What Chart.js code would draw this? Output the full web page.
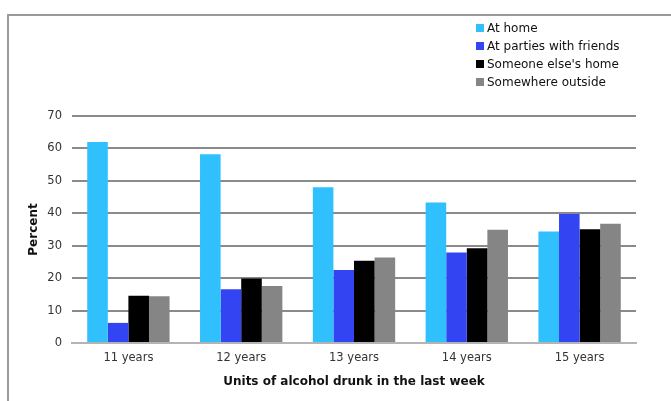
<!DOCTYPE html>
<html>
<head>
<meta charset="utf-8">
<script src="https://cdn.jsdelivr.net/npm/chart.js@4.4.1/dist/chart.umd.min.js"></script>
<style>
  html, body { margin: 0; padding: 0; background: #fff; }
  #wrap { position: relative; width: 671px; height: 401px; overflow: hidden; }
  #frame {
    position: absolute; left: 7px; top: 14px; width: 700px; height: 420px;
    border-left: 2px solid #9a9a9a; border-top: 2px solid #9a9a9a;
  }
  #legend {
    position: absolute; left: 476px; top: 19px;
    font-family: 'DejaVu Sans', sans-serif; font-size: 12px; color: #111;
  }
  #legend .item { height: 18px; line-height: 18px; white-space: nowrap; }
  #legend .box { display: inline-block; width: 8px; height: 8px; margin-right: 3px; }
  canvas { position: absolute; left: 0; top: 0; }
</style>
</head>
<body>
<div id="wrap">
  <div id="frame"></div>
  <canvas id="chart" width="671" height="401"></canvas>
  <div id="legend"></div>
</div>
<script>
// ---- data ----
const categories = ['11 years', '12 years', '13 years', '14 years', '15 years'];
const seriesNames = ['At home', 'At parties with friends', "Someone else's home", 'Somewhere outside'];
const atHome = [62, 58.2, 48, 43.3, 34.4];
const atParties = [6.2, 16.6, 22.5, 27.9, 39.8];
const someoneElses = [14.6, 19.9, 25.4, 29.2, 35.1];
const somewhereOutside = [14.4, 17.6, 26.4, 34.9, 36.8];
const yTicks = [0, 10, 20, 30, 40, 50, 60, 70];

const colors = ['#30c0fd', '#3344f2', '#000000', '#858585'];
const values = [atHome, atParties, someoneElses, somewhereOutside];

const FONT = "'DejaVu Sans', sans-serif";

// HTML legend, stacked vertically in the top-right corner
const legendEl = document.getElementById('legend');
seriesNames.forEach((name, i) => {
  const row = document.createElement('div');
  row.className = 'item';
  const box = document.createElement('span');
  box.className = 'box';
  box.style.background = colors[i];
  row.appendChild(box);
  row.appendChild(document.createTextNode(name));
  legendEl.appendChild(row);
});

new Chart(document.getElementById('chart'), {
  type: 'bar',
  data: {
    labels: categories,
    datasets: seriesNames.map((name, i) => ({
      label: name,
      data: values[i],
      backgroundColor: colors[i],
      borderWidth: 0,
      categoryPercentage: 0.73,
      barPercentage: 1.0,
    }))
  },
  options: {
    responsive: false,
    animation: false,
    devicePixelRatio: 1,
    layout: { padding: { left: 0, right: 35, top: 116, bottom: 0 } },
    plugins: {
      legend: { display: false },
      tooltip: { enabled: false }
    },
    scales: {
      x: {
        grid: { display: false, drawTicks: false },
        border: { display: true, color: '#b4b4b4', width: 2 },
        ticks: { color: '#333', font: { family: FONT, size: 11.5 }, padding: 8 },
        title: {
          display: true,
          text: 'Units of alcohol drunk in the last week',
          color: '#111',
          font: { family: FONT, size: 12, weight: 'bold' },
          padding: { top: 0, bottom: 12 }
        },
        afterFit: s => { s.height = 58; }
      },
      y: {
        min: 0, max: 70,
        afterBuildTicks: s => { s.ticks = yTicks.map(v => ({ value: v })); },
        grid: {
          drawTicks: false,
          lineWidth: 2,
          color: ctx => ctx.tick && ctx.tick.value === 0 ? '#b4b4b4' : '#8a8a8a'
        },
        border: { display: false },
        ticks: { color: '#333', font: { family: FONT, size: 11.5 }, padding: 10 },
        title: {
          display: true,
          text: 'Percent',
          color: '#111',
          font: { family: FONT, size: 12, weight: 'bold' },
          padding: { top: 27, bottom: 0 }
        },
        afterFit: s => { s.width = 72; }
      }
    }
  }
});
</script>
</body>
</html>
